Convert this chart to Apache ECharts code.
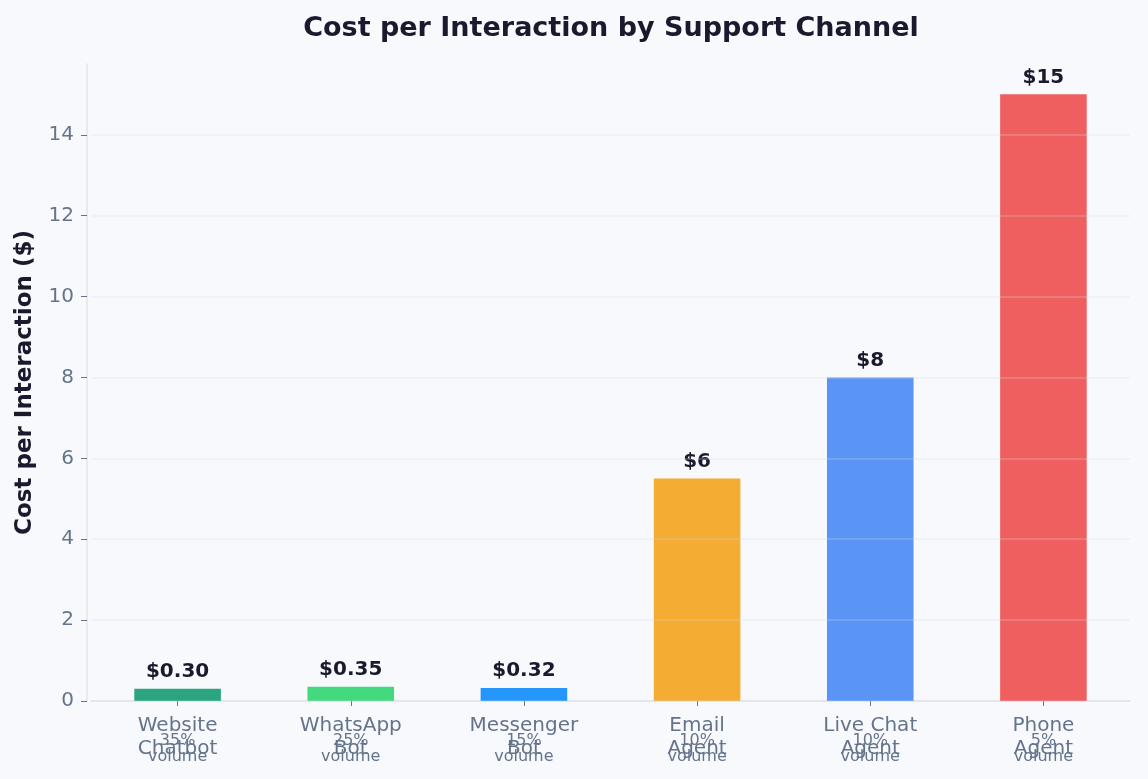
<!DOCTYPE html>
<html>
<head>
<meta charset="utf-8">
<script src="https://cdn.jsdelivr.net/npm/echarts@6/dist/echarts.min.js"></script>
<style>
html,body{margin:0;padding:0;background:#f8f9fd;}
#chart{width:1148px;height:779px;}
</style>
</head>
<body>
<div id="chart"></div>
<script>
const categories = ["Website\nChatbot", "WhatsApp\nBot", "Messenger\nBot", "Email\nAgent", "Live Chat\nAgent", "Phone\nAgent"];
const costs = [0.30, 0.35, 0.32, 5.5, 8, 15];
const volumes = ["35%\nvolume", "25%\nvolume", "15%\nvolume", "10%\nvolume", "10%\nvolume", "5%\nvolume"];
const barColors = ["#2aa57f", "#44d97e", "#2496fc", "#f5ac33", "#5a94f5", "#ef5f5f"];
const yTicks = [0, 2, 4, 6, 8, 10, 12, 14];

const FONT = "DejaVu Sans";
const chart = echarts.init(document.getElementById('chart'));
chart.setOption({
  backgroundColor: '#f8f9fd',
  animation: false,
  title: {
    text: 'Cost per Interaction by Support Channel',
    left: 606, top: 10, textAlign: 'center',
    textStyle: {fontFamily: FONT, fontSize: 27, fontWeight: 'bold', color: '#1a1a2e'}
  },
  grid: {left: 91, right: 18, top: 64, bottom: 78, containLabel: false},
  xAxis: [{
    type: 'category', data: categories, boundaryGap: true,
    axisLine: {lineStyle: {color: '#e2e4ea', width: 1.5}},
    axisTick: {show: true, alignWithLabel: true, length: 5, lineStyle: {color: '#64748b'}},
    axisLabel: {fontFamily: FONT, fontSize: 20, color: '#64748b', margin: 13, lineHeight: 23}
  }, {
    type: 'category', data: volumes, boundaryGap: true, position: 'bottom',
    axisLine: {show: false}, axisTick: {show: false},
    axisLabel: {fontFamily: FONT, fontSize: 16, color: '#64748b', margin: 32, lineHeight: 16}
  }],
  yAxis: {
    type: 'value', min: 0, max: 15.75, interval: 2, offset: 4, z: 3,
    name: 'Cost per Interaction ($)', nameLocation: 'middle', nameGap: 50, nameRotate: 90,
    nameTextStyle: {fontFamily: FONT, fontSize: 23, fontWeight: 'bold', color: '#1a1a2e'},
    axisLine: {show: true, lineStyle: {color: '#e2e4ea', width: 1.5}},
    axisTick: {show: true, length: 6, customValues: yTicks, lineStyle: {color: '#64748b'}},
    axisLabel: {fontFamily: FONT, fontSize: 20, color: '#64748b', margin: 13, customValues: yTicks},
    splitLine: {show: true, lineStyle: {color: 'rgba(215,220,235,0.3)', width: 1.5}}
  },
  series: [{
    type: 'bar', xAxisIndex: 0, barWidth: '50%',
    data: costs.map((v, i) => ({value: v, itemStyle: {color: barColors[i]}})),
    label: {
      show: true, position: 'top', distance: 7,
      fontFamily: FONT, fontSize: 20, fontWeight: 'bold', color: '#1a1a2e',
      formatter: p => '$' + (p.value < 1 ? p.value.toFixed(2) : p.value.toFixed(0))
    }
  }]
});
</script>
</body>
</html>
